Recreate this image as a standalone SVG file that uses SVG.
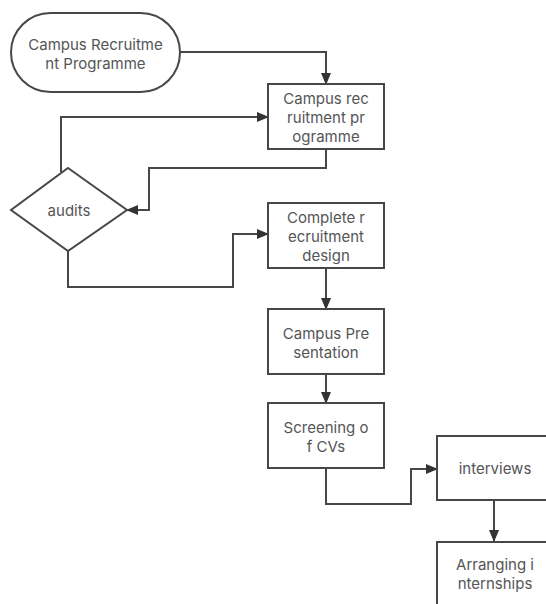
<svg xmlns="http://www.w3.org/2000/svg" width="546" height="604" viewBox="0 0 546 604">
<style>
.n{fill:#fff;stroke:#474747;stroke-width:2}
.t{font-family:Inter,"Open Sans","Liberation Sans",sans-serif;font-size:15px;fill:#555;text-anchor:middle}
.c{fill:none;stroke:#474747;stroke-width:2;marker-end:url(#a)}
</style>
<defs>
<marker id="a" markerUnits="userSpaceOnUse" markerWidth="12" markerHeight="12" viewBox="0 0 12 12" refX="11" refY="6" orient="auto">
<path d="M0,1 L12,6 L0,11 Z" fill="#333"/>
</marker>
</defs>
<rect width="546" height="604" fill="#fff"/>
<g id="connectors">
<path class="c" d="M180,52 H326 V84"/>
<path class="c" d="M326,149 V168 H149 V210 H127"/>
<path class="c" d="M61,172 V117 H268"/>
<path class="c" d="M68,251 V287 H233 V234 H268"/>
<path class="c" d="M326,268 V309"/>
<path class="c" d="M326,374 V403"/>
<path class="c" d="M326,468 V504 H411 V469 H437"/>
<path class="c" d="M494,500 V541"/>
</g>
<g id="start">
<rect class="n" x="11" y="13" width="169" height="79" rx="39.5"/>
<text class="t" x="95.5" y="50">Campus Recruitme</text>
<text class="t" x="95.5" y="69">nt Programme</text>
</g>
<g id="box1">
<rect class="n" x="268" y="84" width="116" height="65"/>
<text class="t" x="326" y="104">Campus rec</text>
<text class="t" x="326" y="123">ruitment pr</text>
<text class="t" x="326" y="142">ogramme</text>
</g>
<g id="audits">
<polygon class="n" points="68,168 127,210 68,251 11,210"/>
<text class="t" x="69" y="216">audits</text>
</g>
<g id="box2">
<rect class="n" x="268" y="203" width="116" height="65"/>
<text class="t" x="326" y="223">Complete r</text>
<text class="t" x="326" y="242">ecruitment</text>
<text class="t" x="326" y="261">design</text>
</g>
<g id="box3">
<rect class="n" x="268" y="309" width="116" height="65"/>
<text class="t" x="326" y="339">Campus Pre</text>
<text class="t" x="326" y="358">sentation</text>
</g>
<g id="box4">
<rect class="n" x="268" y="403" width="116" height="65"/>
<text class="t" x="326" y="433">Screening o</text>
<text class="t" x="326" y="452">f CVs</text>
</g>
<g id="interviews">
<rect class="n" x="437" y="436" width="130" height="64"/>
<text class="t" x="495" y="474">interviews</text>
</g>
<g id="arranging">
<rect class="n" x="437" y="542" width="130" height="80"/>
<text class="t" x="495" y="570">Arranging i</text>
<text class="t" x="495" y="589">nternships</text>
</g>
</svg>
